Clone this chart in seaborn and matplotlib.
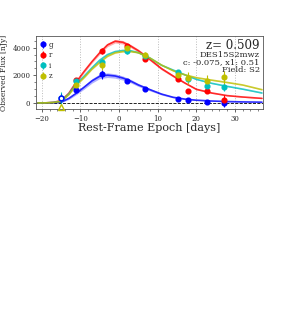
import numpy as np
import pandas as pd
import matplotlib
matplotlib.use("Agg")
import matplotlib.pyplot as plt
import seaborn as sns
from matplotlib.ticker import MultipleLocator

# observed epochs (rest frame days)
epochs = [-11.2, -4.5, 2.1, 6.6, 15.2, 17.9, 22.7, 27.2]

flux_g = [915, 2070, 1590, 1010, 265, 240, 70, 25]
err_g = [120, 330, 120, 120, 100, 100, 100, 300]
flux_r = [1660, 3760, 4100, 3200, 1710, 890, 840, 215]
err_r = [150, 200, 150, 200, 150, 150, 150, 350]
flux_i = [1570, 2990, 3760, 3420, 2215, 1735, 1230, 1130]
err_i = [150, 200, 200, 200, 200, 250, 200, 300]
flux_z = [1300, 2770, 3990, 3470, 2020, 1800, 1615, 1855]
err_z = [200, 350, 200, 250, 300, 450, 400, 450]

# low significance points (open markers)
open_epoch = -15.1
open_g, open_g_err = 340, 300
open_i, open_i_err = 360, 450
open_z = -330

# model light curves
model_t = [-21, -19, -17, -15, -13, -11, -9, -7, -5, -3, -1, 1, 3, 5, 8, 11, 14, 17, 20, 24, 28, 32, 37]
model_g = [0, 2, 15, 60, 330, 720, 1150, 1600, 1930, 2010, 1950, 1800, 1580, 1300, 960, 640, 410, 280, 200, 140, 100, 75, 55]
model_r = [0, 5, 40, 170, 700, 1550, 2300, 3000, 3640, 4200, 4470, 4390, 4120, 3780, 3150, 2480, 1950, 1450, 990, 720, 530, 430, 330]
model_i = [0, 5, 35, 130, 650, 1400, 1950, 2550, 3100, 3500, 3720, 3800, 3780, 3640, 3250, 2730, 2380, 2040, 1710, 1420, 1200, 1000, 720]
model_z = [0, 5, 30, 110, 600, 1300, 1850, 2450, 2940, 3380, 3630, 3720, 3720, 3640, 3250, 2740, 2330, 2040, 1830, 1650, 1480, 1300, 960]
band_g = [0, 5, 20, 50, 80, 110, 140, 160, 170, 170, 160, 150, 130, 110, 90, 70, 50, 40, 30, 25, 20, 15, 10]
band_r = [0, 5, 15, 40, 60, 80, 100, 110, 120, 130, 130, 130, 120, 110, 100, 90, 80, 60, 50, 40, 30, 25, 20]
band_i = [0, 2, 5, 10, 20, 30, 40, 40, 40, 40, 40, 40, 40, 40, 40, 35, 30, 30, 25, 25, 20, 20, 20]
band_z = band_i

filters = ["g", "r", "i", "z"]
colors = {"g": "#0000ff", "r": "#ff0000", "i": "#00bfbf", "z": "#bfbf00"}

obs = pd.DataFrame({
    "epoch": epochs * 4,
    "flux": flux_g + flux_r + flux_i + flux_z,
    "err": err_g + err_r + err_i + err_z,
    "band": [f for f in filters for _ in epochs],
})
model = pd.DataFrame({
    "epoch": model_t * 4,
    "flux": model_g + model_r + model_i + model_z,
    "sig": band_g + band_r + band_i + band_z,
    "band": [f for f in filters for _ in model_t],
})

sns.set_style("ticks")
plt.rcParams["font.family"] = ["DejaVu Serif"]

fig = plt.figure(figsize=(2.93, 3.21), dpi=100)
ax = fig.add_axes([0.123, 0.66, 0.775, 0.228])

for f in filters:
    m = model[model.band == f]
    ax.fill_between(m.epoch, m.flux - m.sig, m.flux + m.sig, color=colors[f], alpha=0.3, lw=0)
sns.lineplot(data=model, x="epoch", y="flux", hue="band", palette=colors, ax=ax,
             lw=1.2, alpha=0.8, legend=False, sort=False, estimator=None)

for f in filters:
    d = obs[obs.band == f]
    ax.errorbar(d.epoch, d.flux, yerr=d.err, fmt="o", color=colors[f], ms=3.4,
                elinewidth=0.8, capsize=0, label=f, zorder=5)

ax.errorbar([open_epoch], [open_i], yerr=[open_i_err], fmt="o", mfc="white", mec=colors["i"],
            color=colors["i"], ms=3.5, elinewidth=0.8, zorder=6)
ax.errorbar([open_epoch], [open_g], yerr=[open_g_err], fmt="o", mfc="none", mec=colors["g"],
            color=colors["g"], ms=3.5, elinewidth=0.8, zorder=6)
ax.plot([open_epoch], [open_z], marker="^", mfc="none", mec=colors["z"], ms=4, ls="none",
        clip_on=False, zorder=6)

ax.axhline(0, color="k", ls="--", lw=0.6, zorder=1)
ax.set_xlim(-21.5, 37.3)
ax.set_ylim(-450, 4850)
ax.xaxis.set_major_locator(MultipleLocator(10))
ax.xaxis.set_minor_locator(MultipleLocator(2))
ax.yaxis.set_major_locator(MultipleLocator(2000))
ax.yaxis.set_minor_locator(MultipleLocator(500))
ax.grid(axis="x", which="major", ls=":", color="#bbbbbb", lw=0.7)
ax.tick_params(labelsize=5, length=2.5, width=0.5, pad=1.5)
ax.tick_params(which="minor", length=1.5, width=0.4)
for s in ax.spines.values():
    s.set_linewidth(0.6)
    s.set_color("#555555")

ax.set_xlabel("Rest-Frame Epoch [days]", fontsize=8, labelpad=0)
ax.set_ylabel("Observed Flux [nJy]", fontsize=5.5, labelpad=3)

ax.legend(loc="upper left", fontsize=5, frameon=False, handlelength=0.6,
          handletextpad=0.5, labelspacing=0.35, borderaxespad=0.3)

ax.text(0.985, 0.96, "z= 0.509", transform=ax.transAxes, ha="right", va="top", fontsize=8.5)
ax.text(0.985, 0.80, "DES15S2mwz\nc: -0.075, x1: 0.51\nField: S2", transform=ax.transAxes,
        ha="right", va="top", fontsize=6, linespacing=0.95)

fig.savefig("out.png", dpi=100)
